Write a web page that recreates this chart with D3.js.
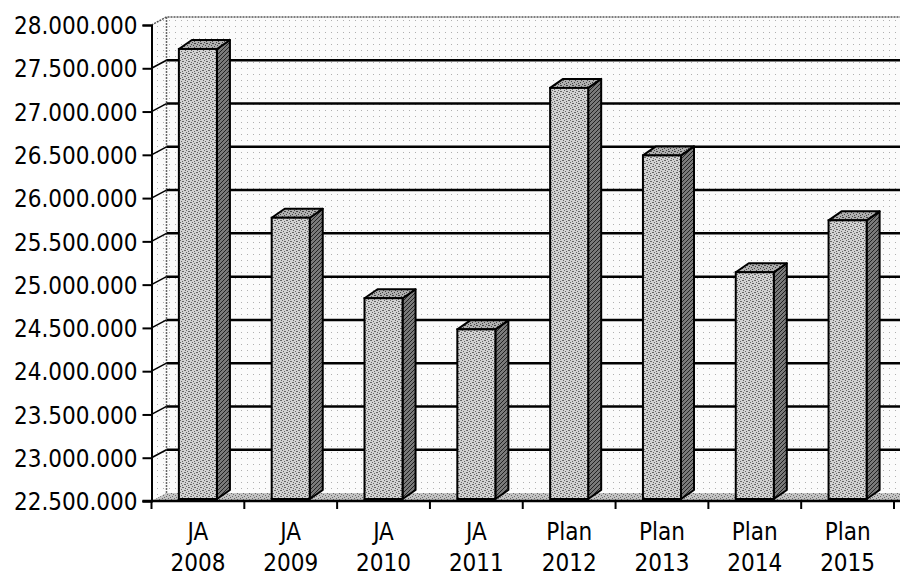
<!DOCTYPE html>
<html>
<head>
<meta charset="utf-8">
<script src="https://cdn.jsdelivr.net/npm/d3@7"></script>
<style>
  html, body { margin: 0; padding: 0; background: #fff; }
  svg { display: block; }
  .lbl { font-family: "DejaVu Sans Condensed", "DejaVu Sans", sans-serif; font-stretch: condensed; font-size: 24px; fill: #000; }
</style>
</head>
<body>
<svg id="chart" width="900" height="578"></svg>
<script>
// Categories (two-line labels) and yearly values
const groups = ["JA", "JA", "JA", "JA", "Plan", "Plan", "Plan", "Plan"];
const years = ["2008", "2009", "2010", "2011", "2012", "2013", "2014", "2015"];
const values = [27700000, 25750000, 24820000, 24460000, 27250000, 26470000, 25120000, 25720000];
const yTicks = [22500000, 23000000, 23500000, 24000000, 24500000, 25000000, 25500000,
                26000000, 26500000, 27000000, 27500000, 28000000];

const svg = d3.select("#chart");
const W = 900;

// Front plane of the 3-D box
const x0 = 151.5, x1 = 894;
const yTop = 25, yBot = 501;
const DX = 15, DY = -8;          // wall depth
const BDX = 13, BDY = -9;        // bar depth
const BOX = 0, BOY = -2;         // bar front offset from front plane

const keys = years.map((y, i) => i);
const x = d3.scaleBand().domain(keys).range([x0, x1]).padding(0);
const y = d3.scaleLinear().domain([22500000, 28000000]).range([yBot, yTop]);
const barW = x.bandwidth() * 0.41;

const de = d3.formatLocale({ decimal: ",", thousands: ".", grouping: [3], currency: ["", "€"] });
const fmt = de.format(",.0f");

// Stipple patterns for the surfaces
const defs = svg.append("defs");
function stipple(id, base, dot, cells) {
  const p = defs.append("pattern").attr("id", id).attr("patternUnits", "userSpaceOnUse")
    .attr("width", 6).attr("height", 6);
  p.append("rect").attr("width", 6).attr("height", 6).attr("fill", base);
  cells.forEach(([cx, cy]) => p.append("rect").attr("x", cx).attr("y", cy)
    .attr("width", 1).attr("height", 1).attr("fill", dot));
}
stipple("pWall", "#fbfbfb", "#b0b0b0", [[1, 2]]);
stipple("pFloor", "#c4c4c4", "#6a6a6a", [[0, 0], [3, 1], [1, 3], [4, 4], [2, 5], [5, 2]]);
stipple("pFront", "#d2d2d2", "#666", [[0, 0], [3, 1], [1, 3], [4, 4], [2, 5], [5, 2], [2, 1], [5, 4]]);
stipple("pTop", "#b0b0b0", "#444", [[0, 0], [3, 1], [1, 3], [4, 4], [2, 5], [5, 2], [2, 1]]);
(function () {
  const p = defs.append("pattern").attr("id", "pSide").attr("patternUnits", "userSpaceOnUse")
    .attr("width", 4).attr("height", 4);
  p.append("rect").attr("width", 4).attr("height", 4).attr("fill", "#7a7a7a");
  p.append("path").attr("d", "M0,4 L4,0 M-1,1 L1,-1 M3,5 L5,3").attr("stroke", "#222").attr("stroke-width", 1);
})();

// Back wall
svg.append("rect")
  .attr("x", x0 + DX).attr("y", y(28000000) + DY)
  .attr("width", W + 20 - (x0 + DX)).attr("height", yBot - yTop)
  .attr("fill", "url(#pWall)");

// Left wall
svg.append("path")
  .attr("d", `M${x0},${yTop} L${x0 + DX},${yTop + DY} L${x0 + DX},${yBot + DY} L${x0},${yBot} Z`)
  .attr("fill", "url(#pWall)");

// Floor
svg.append("path")
  .attr("d", `M${x0},${yBot} L${x0 + DX},${yBot + DY} L${W + 20},${yBot + DY} L${W + 20},${yBot} Z`)
  .attr("fill", "url(#pFloor)");

// Top edge and inner corner of the walls
svg.append("path")
  .attr("d", `M${x0},${yTop} L${x0 + DX},${yTop + DY} L${W + 20},${yTop + DY}`)
  .attr("fill", "none").attr("stroke", "#555").attr("stroke-width", 1.5).attr("stroke-dasharray", "2,1");
svg.append("line")
  .attr("x1", x0 + DX).attr("x2", x0 + DX).attr("y1", yTop + DY).attr("y2", yBot + DY)
  .attr("stroke", "#666").attr("stroke-width", 1.5).attr("stroke-dasharray", "2,1");

// Gridlines: back wall and left wall
const gridVals = yTicks.filter(v => v > 22500000 && v < 28000000);
svg.append("g").selectAll("line").data(gridVals).join("line")
  .attr("x1", x0 + DX).attr("x2", W + 20)
  .attr("y1", d => y(d) + DY).attr("y2", d => y(d) + DY)
  .attr("stroke", "#000").attr("stroke-width", 2.5);
svg.append("g").selectAll("line").data(gridVals).join("line")
  .attr("x1", x0).attr("x2", x0 + DX)
  .attr("y1", d => y(d)).attr("y2", d => y(d) + DY)
  .attr("stroke", "#000").attr("stroke-width", 1.5);

// Bars (side, top, front)
const bars = svg.append("g").selectAll("g").data(keys).join("g");
bars.each(function (i) {
  const g = d3.select(this);
  const xl = x(i) + (x.bandwidth() - barW) / 2 + BOX;
  const xr = xl + barW;
  const yt = y(values[i]) + BOY;
  const yb = y(22500000) + BOY;
  g.append("path")
    .attr("d", `M${xr},${yt} L${xr + BDX},${yt + BDY} L${xr + BDX},${yb + BDY} L${xr},${yb} Z`)
    .attr("fill", "url(#pSide)").attr("stroke", "#000").attr("stroke-width", 2).attr("stroke-linejoin", "round");
  g.append("path")
    .attr("d", `M${xl},${yt} L${xl + BDX},${yt + BDY} L${xr + BDX},${yt + BDY} L${xr},${yt} Z`)
    .attr("fill", "url(#pTop)").attr("stroke", "#000").attr("stroke-width", 2).attr("stroke-linejoin", "round");
  g.append("rect")
    .attr("x", xl).attr("y", yt).attr("width", barW).attr("height", yb - yt)
    .attr("fill", "url(#pFront)").attr("stroke", "#000").attr("stroke-width", 2);
});

// Y axis
const yAxis = svg.append("g").attr("transform", `translate(${x0},0)`)
  .call(d3.axisLeft(y).tickValues(yTicks).tickFormat(fmt).tickSize(9).tickPadding(5));
yAxis.select(".domain").attr("stroke", "#000").attr("stroke-width", 2);
yAxis.selectAll(".tick line").attr("stroke", "#000").attr("stroke-width", 2);
yAxis.selectAll(".tick text").attr("class", "lbl").attr("dy", "0.36em");

// X axis
const xAxis = svg.append("g").attr("transform", `translate(0,${yBot})`)
  .call(d3.axisBottom(x).tickSize(0).tickFormat(""));
xAxis.select(".domain").attr("d", `M${x0 - 9},0 H${W}`).attr("stroke", "#000").attr("stroke-width", 2.5);

// Tick marks at category boundaries
const bounds = keys.map(i => x(i)).concat([x1]);
svg.append("g").selectAll("line").data(bounds).join("line")
  .attr("x1", d => d).attr("x2", d => d)
  .attr("y1", yBot).attr("y2", yBot + 8)
  .attr("stroke", "#000").attr("stroke-width", 2);

// Two-line category labels
const labels = svg.append("g").selectAll("text").data(keys).join("text")
  .attr("class", "lbl").attr("text-anchor", "middle")
  .attr("x", i => x(i) + x.bandwidth() / 2);
labels.append("tspan").attr("x", i => x(i) + x.bandwidth() / 2).attr("y", 540).text(i => groups[i]);
labels.append("tspan").attr("x", i => x(i) + x.bandwidth() / 2).attr("y", 571).text(i => years[i]);
</script>
</body>
</html>
